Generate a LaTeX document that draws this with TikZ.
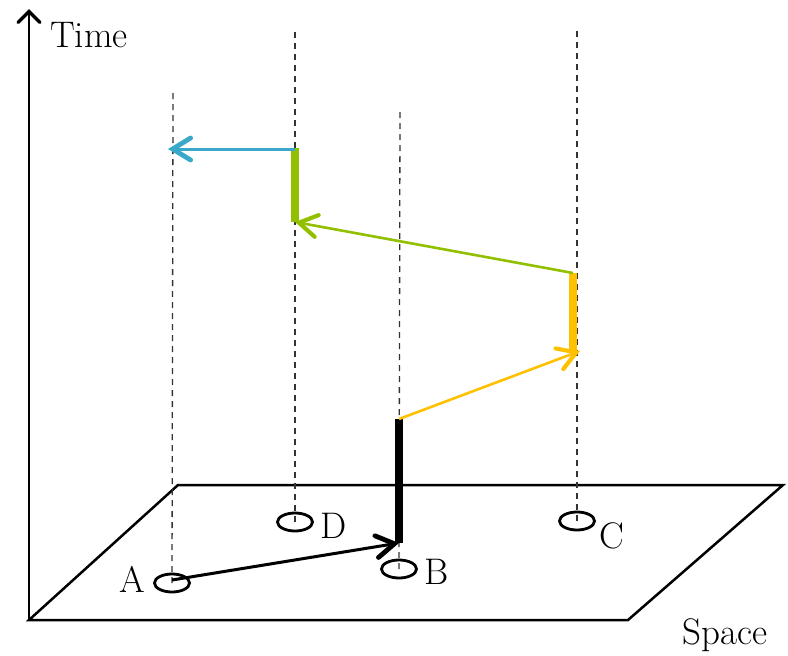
\documentclass[tikz,border=0pt]{standalone}
\usetikzlibrary{arrows.meta,shapes.geometric}
\definecolor{cyel}{RGB}{255,192,0}
\definecolor{cgrn}{RGB}{146,192,0}
\definecolor{cblu}{RGB}{58,168,200}
\begin{document}
\begin{tikzpicture}[x=1pt,y=-1pt,
  lbl/.style={inner sep=0pt,anchor=base west,font=\fontsize{37}{44}\selectfont},
  site/.style={draw,ellipse,line width=2.8pt,minimum width=35pt,minimum height=18pt,inner sep=0pt},
  guide/.style={line width=1.3pt,black!80,dash pattern=on 6pt off 5pt},
  barb/.style={-{Straight Barb[length=18pt,width=22pt,line cap=round,line width=0pt 1.6]}},
  hop/.style={line width=3pt,barb},
  stay/.style={line width=8.5pt},
  frame/.style={line width=2.5pt,line join=miter}]
\useasboundingbox (0,0) rectangle (788,656);

% axis and plane
\coordinate (o) at (29,620);
\coordinate (top) at (29,9);
\draw[line width=2.8pt,-{Straight Barb[length=11pt,width=22pt,line cap=round,line width=0pt 1.2]}] (o) -- (top);
\draw[frame] (o) -- (628,620) -- (783,485) -- (178,485) -- cycle;
\node[lbl] (time) at (50,47) {Time};
\node[lbl] (space) at (682,644) {Space};

% sites
\node[site] (A) at (172,583) {};
\node[site] (D) at (295,522) {};
\node[site] (B) at (399,569) {};
\node[site] (C) at (577,521) {};
\node[lbl] (la) at (119,592) {A};
\node[lbl] (ld) at (320,538) {D};
\node[lbl] (lb) at (424,584) {B};
\node[lbl] (lc) at (599,548) {C};

% world lines
\coordinate (At) at (173,93);
\coordinate (Dt) at (295,30);
\coordinate (Bt) at (400,110);
\coordinate (Ct) at (577,30);
\draw[guide] (A.center) -- (At);
\draw[guide] (D.center) -- (Dt);
\draw[guide] (B.center) -- (Bt);
\draw[guide] (C.center) -- (Ct);

% events
\coordinate (a0) at (172,580);
\coordinate (b0) at (399,543);
\coordinate (b1) at (399,419);
\coordinate (c0) at (580,351);
\coordinate (c0s) at (573,351);
\coordinate (c1) at (573,273);
\coordinate (d0) at (295,222);
\coordinate (d1) at (295,148);
\coordinate (a1) at (168,149);

\draw[hop,black] (a0) -- (b0);
\draw[stay,black] (b0) -- (b1);
\draw[hop,cyel,line width=2.6pt] (b1) -- (c0);
\draw[stay,cyel] (c0s) -- (c1);
\draw[hop,cgrn,line width=2.6pt] (c1) -- (d0);
\draw[stay,cgrn] (d0) -- (d1);
\draw[hop,cblu] (d1 |- a1) -- (a1);
\end{tikzpicture}
\end{document}
